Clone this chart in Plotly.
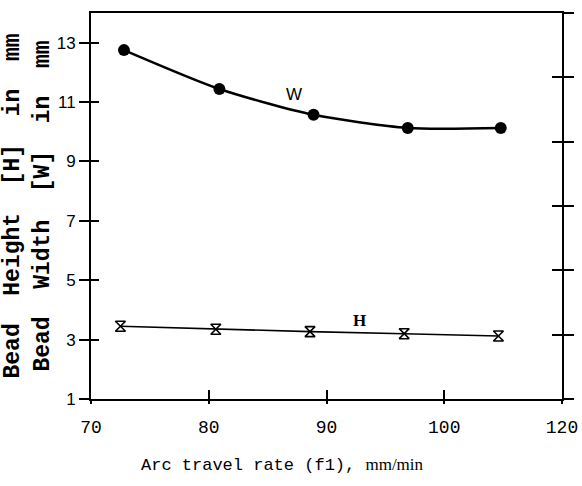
import plotly.graph_objects as go

# Data
travel_rate = [72.8, 80.9, 88.9, 96.9, 104.8]
bead_width = [12.75, 11.44, 10.57, 10.13, 10.13]
travel_rate_h = [72.5, 80.6, 88.6, 96.6, 104.6]
bead_height = [3.45, 3.35, 3.27, 3.2, 3.12]

x_tickvals = [70, 80, 90, 100, 110]
x_ticktext = ["70", "80", "90", "100", "120"]
y_tickvals = [1, 3, 5, 7, 9, 11, 13]
right_tickvals = [0, 1, 2, 3, 4, 5, 6]

fig = go.Figure()

fig.add_trace(go.Scatter(
    x=travel_rate, y=bead_width, mode="lines+markers",
    line=dict(color="black", width=2.5, shape="spline", smoothing=0.7),
    marker=dict(symbol="circle", size=12, color="black"),
    showlegend=False, hoverinfo="skip"))

fig.add_trace(go.Scatter(
    x=travel_rate_h, y=bead_height, mode="lines+markers",
    line=dict(color="black", width=1.6),
    marker=dict(symbol="hourglass-open", size=10, color="black",
                line=dict(width=1.6, color="black")),
    showlegend=False, hoverinfo="skip"))

# empty helper traces so that the tick-only overlay axes get drawn
for xa, ya in [("x2", "y"), ("x", "y3"), ("x", "y2"), ("x", "y4")]:
    fig.add_trace(go.Scatter(x=[], y=[], xaxis=xa, yaxis=ya, mode="markers",
                             showlegend=False, hoverinfo="skip"))

mono = "Liberation Mono, Courier New, monospace"
tick_common = dict(tickwidth=1.5, tickcolor="black", showgrid=False,
                   zeroline=False, automargin=False)

fig.update_layout(
    width=582, height=486,
    margin=dict(l=91, r=20, t=13, b=87),
    paper_bgcolor="white", plot_bgcolor="white",
    xaxis=dict(range=[70, 110], tickvals=x_tickvals, ticktext=x_ticktext,
               ticks="inside", ticklen=9, ticklabelstandoff=10,
               showline=True, linecolor="black", linewidth=2, mirror=True,
               tickfont=dict(family=mono, size=18, color="black"), **tick_common),
    xaxis2=dict(range=[70, 110], overlaying="x", anchor="y", side="bottom",
                tickvals=x_tickvals, showticklabels=False,
                ticks="outside", ticklen=4, showline=False, **tick_common),
    yaxis=dict(range=[1, 14], tickvals=y_tickvals,
               ticks="outside", ticklen=10,
               showline=True, linecolor="black", linewidth=2,
               tickfont=dict(family="Liberation Sans Narrow, Liberation Sans, Arial",
                             size=17, color="black"),
               title=dict(text="Bead  Height  [H]  in  mm<br>Bead  Width  [W]  in  mm",
                          font=dict(family=mono, size=23, color="black",
                                    weight="bold"),
                          standoff=5),
               **tick_common),
    yaxis3=dict(range=[1, 14], overlaying="y", anchor="x", side="left",
                tickvals=y_tickvals, showticklabels=False,
                ticks="inside", ticklen=8, showline=False, **tick_common),
    yaxis2=dict(range=[0, 6], overlaying="y", anchor="x", side="right",
                tickvals=right_tickvals, showticklabels=False,
                ticks="outside", ticklen=10,
                showline=True, linecolor="black", linewidth=2, **tick_common),
    yaxis4=dict(range=[0, 6], overlaying="y", anchor="x", side="right",
                tickvals=right_tickvals, showticklabels=False,
                ticks="inside", ticklen=10, showline=False, **tick_common),
)

fig.add_annotation(x=87.2, y=11.25, xref="x", yref="y", text="W", showarrow=False,
                   font=dict(family="Liberation Sans, Arial", size=17, color="black"))
fig.add_annotation(x=92.8, y=3.63, xref="x", yref="y", text="<b>H</b>", showarrow=False,
                   font=dict(family="Liberation Serif, Times New Roman", size=17, color="black"))
fig.add_annotation(
    x=(282 - 91) / (562 - 91), y=-(465 - 399) / (399 - 13),
    xref="paper", yref="paper", xanchor="center", yanchor="middle",
    text="Arc travel rate (f1), <span style='font-family:Liberation Serif; font-size:17px'>mm/min</span>",
    showarrow=False,
    font=dict(family=mono, size=17, color="black"))

fig.write_html("out.html")
